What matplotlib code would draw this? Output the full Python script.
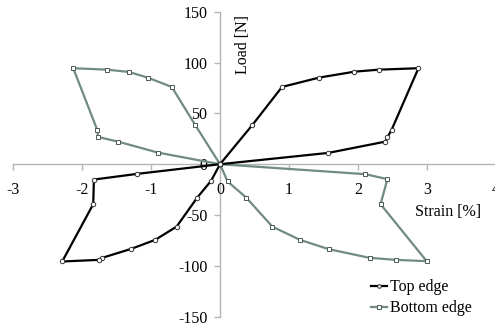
import matplotlib
matplotlib.use("Agg")
import matplotlib.pyplot as plt

plt.rcParams['font.family'] = ['Liberation Serif', 'DejaVu Serif']

# Load-strain loops for the two edges
top_strain = [0, 0.47, 0.90, 1.44, 1.95, 2.31, 2.88, 2.49, 2.43, 2.40, 1.57, 0,
              -0.13, -0.33, -0.63, -0.94, -1.29, -1.71, -1.76, -2.29, -1.84, -1.83, -1.20, 0]
top_load = [0, 38.6, 76, 85.2, 91, 93, 94.4, 33.7, 26.5, 22.2, 11.1, 0,
            -16.4, -32.8, -61.4, -74.4, -83.3, -92.1, -94.1, -95.7, -39.3, -15.1, -9.5, 0]

bottom_strain = [0, -0.36, -0.70, -1.05, -1.32, -1.64, -2.13, -1.78, -1.77, -1.48, -0.90, 0,
                 0.11, 0.38, 0.76, 1.16, 1.58, 2.17, 2.55, 3.00, 2.33, 2.43, 2.11, 0]
bottom_load = [0, 38.6, 76, 85.2, 90.7, 93, 94.4, 33.4, 26.8, 22.2, 11.4, 0,
               -17, -32.8, -61.4, -74.4, -83.6, -92.1, -94.1, -95.4, -39.3, -14.7, -9.8, 0]

x_ticks = [-3, -2, -1, 0, 1, 2, 3, 4]
y_ticks = [-150, -100, -50, 0, 50, 100, 150]

W, H = 495, 327
fig = plt.figure(figsize=(W / 100, H / 100), dpi=100)
ax = fig.add_axes([13.3 / W, 1 - 316.7 / H, (495.6 - 13.3) / W, (316.7 - 11.7) / H])

gray = '#718a86'
ax.plot(bottom_strain, bottom_load, color=gray, lw=1.6, marker='s', ms=3.2,
        mfc='white', mec='#4a5a58', mew=0.7, label='Bottom edge', zorder=2)
ax.plot(top_strain, top_load, color='black', lw=1.6, marker='o', ms=3.2,
        mfc='white', mec='#333333', mew=0.7, label='Top edge', zorder=3)

ax.set_xlim(-3, 4)
ax.set_ylim(-150, 150)
ax.set_xticks(x_ticks)
ax.set_yticks(y_ticks)
ax.set_xticklabels([str(v) for v in x_ticks])
ax.set_yticklabels([str(v) for v in y_ticks])

for side in ['top', 'right']:
    ax.spines[side].set_visible(False)
for side in ['left', 'bottom']:
    ax.spines[side].set_position(('data', 0))
    ax.spines[side].set_color('#b5b5b5')
    ax.spines[side].set_linewidth(1.0)
    ax.spines[side].set_zorder(1)

ax.tick_params(axis='x', direction='out', length=4, width=1, color='#b5b5b5',
               pad=8.5, labelsize=11.5)
ax.tick_params(axis='y', direction='out', length=4, width=1, color='#b5b5b5',
               pad=5, labelsize=11.5)
ax.patch.set_alpha(0)

ax.text(3.31, -46.9, 'Strain [%]', ha='center', va='center', fontsize=11.5)
ax.text(0.33, 117.3, 'Load [N]', ha='center', va='center', rotation=90, fontsize=11.5)

handles, labels = ax.get_legend_handles_labels()
ax.legend(handles[::-1], labels[::-1], loc='upper left',
          bbox_to_anchor=(367 / W, 1 - 287 / H), frameon=False,
          borderaxespad=0, borderpad=0, handlelength=1.0, handletextpad=0.2,
          labelspacing=0.3, fontsize=11.5, markerscale=0.8)

fig.savefig('out.png', dpi=100)
